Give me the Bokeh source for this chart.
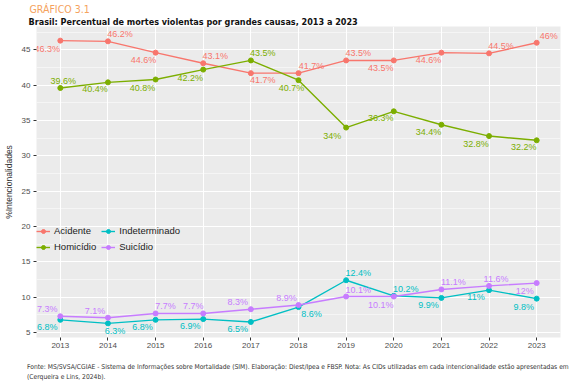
from bokeh.plotting import figure
from bokeh.models import (Range1d, SingleIntervalTicker, FixedTicker, Legend, LegendItem,
                          Title, Div, ColumnDataSource)
from bokeh.layouts import column
from bokeh.core.properties import value
from bokeh.embed import file_html
from bokeh.resources import INLINE

years = [2013, 2014, 2015, 2016, 2017, 2018, 2019, 2020, 2021, 2022, 2023]
acidente = [46.3, 46.2, 44.6, 43.1, 41.7, 41.7, 43.5, 43.5, 44.6, 44.5, 46.0]
homicidio = [39.6, 40.4, 40.8, 42.2, 43.5, 40.7, 34.0, 36.3, 34.4, 32.8, 32.2]
indeterminado = [6.8, 6.3, 6.8, 6.9, 6.5, 8.6, 12.4, 10.2, 9.9, 11.0, 9.8]
suicidio = [7.3, 7.1, 7.7, 7.7, 8.3, 8.9, 10.1, 10.1, 11.1, 11.6, 12.0]
series_names = ["Acidente", "Homicídio", "Indeterminado", "Suicídio"]

titulo_sup = "GRÁFICO 3.1"
titulo = "Brasil: Percentual de mortes violentas por grandes causas, 2013 a 2023"
y_label = "%Intencionalidades"
fonte1 = ("Fonte: MS/SVSA/CGIAE - Sistema de Informações sobre Mortalidade (SIM). Elaboração: "
          "Diest/Ipea e FBSP. Nota: As CIDs utilizadas em cada intencionalidade estão apresentadas em")
fonte2 = "(Cerqueira e Lins, 2024b)."

# styling: colours and label offsets (pixels)
colors = ["#F8766D", "#7CAE00", "#00BFC4", "#C77CFF"]
dxs = [
    [-13, 12, -12, 12, 12, 13, 12, -13, -13, 12, 12],
    [3, -13, -13, -13, 12, -7, -14, -13, -13, -13, -13],
    [-13, 7, -13, -13, -13, 13, 12, 12, -13, -13, -13],
    [-13, -13, 10, -10, -13, -12, 12, -13, 12, 7, -12],
]
dys = [
    [8, -7, 7, -7, 7, -7, -7, 8, 7, -7, -7],
    [-7, 7, 8, 8, -7, 8, 8, 7, 7, 8, 7],
    [7, 8, 7, 7, 7, 7, -7, -7, 7, 7, 8],
    [-7, -7, -7, -7, -7, -7, -7, 8, -7, -7, 8],
]

FONT = "Liberation Sans"
NARROW = "'DejaVu Sans Condensed', 'Liberation Sans', sans-serif"

p = figure(width=576, height=360, output_backend="svg", toolbar_location=None,
           x_range=Range1d(2012.5, 2023.5), y_range=Range1d(4.3, 48.3),
           title=None, min_border_left=34, min_border_right=16, min_border_top=0,
           min_border_bottom=23, background_fill_color="#EBEBEB",
           border_fill_color="white", outline_line_color=None)

p.xaxis.ticker = FixedTicker(ticks=years)
p.yaxis.ticker = SingleIntervalTicker(interval=5, num_minor_ticks=2)
for ax in (p.xaxis[0], p.yaxis[0]):
    ax.axis_line_color = None
    ax.major_tick_line_color = "#333333"
    ax.major_tick_out = 3
    ax.major_tick_in = 0
    ax.minor_tick_line_color = None
    ax.major_label_text_font = FONT
    ax.major_label_text_font_size = "8px"
    ax.major_label_text_color = "#4D4D4D"
    ax.major_label_standoff = 2
p.yaxis.axis_label = y_label
p.yaxis.axis_label_text_font = FONT
p.yaxis.axis_label_text_font_size = "8.5px"
p.yaxis.axis_label_text_font_style = "normal"
p.yaxis.axis_label_text_color = "#333333"
p.yaxis.axis_label_standoff = 5

p.xgrid.grid_line_color = "white"
p.xgrid.grid_line_width = 1.1
p.ygrid.grid_line_color = "white"
p.ygrid.grid_line_width = 1.1
p.ygrid.minor_grid_line_color = "white"
p.ygrid.minor_grid_line_width = 0.5

data = [acidente, homicidio, indeterminado, suicidio]
items = {}
for name, vals, c, dx, dy in zip(series_names, data, colors, dxs, dys):
    src = ColumnDataSource(dict(x=years, y=vals, lab=[f"{v:g}%" for v in vals],
                                dx=dx, dy=dy))
    lr = p.line("x", "y", source=src, line_color=c, line_width=1.4)
    sr = p.scatter("x", "y", source=src, size=5, fill_color=c, line_color=c)
    p.text("x", "y", text="lab", source=src, x_offset="dx", y_offset="dy",
           text_color=c, text_font=value(FONT), text_font_size="9px",
           text_align="center", text_baseline="middle")
    items[name] = LegendItem(label=name, renderers=[lr, sr])

legend = Legend(items=[items["Acidente"], items["Homicídio"], items["Indeterminado"], items["Suicídio"]],
                ncols=2, location=(0, 85), background_fill_alpha=0, border_line_color=None,
                label_text_font=FONT, label_text_font_size="9.5px", label_text_color="#222222",
                glyph_width=14, glyph_height=10, label_standoff=4, spacing=5, padding=4,
                margin=0, label_height=10)
p.add_layout(legend, "center")

p.add_layout(Title(text=titulo, text_font=NARROW, text_font_style="bold",
                   text_font_size="9px", text_color="#111111", offset=-8, standoff=0), "above")
p.add_layout(Title(text=titulo_sup, text_font=NARROW, text_font_style="normal",
                   text_font_size="10.5px", text_color="#F5A25D", offset=-7, standoff=0), "above")

footer = Div(
    text=('<div style="font-family: \'DejaVu Sans Condensed\', \'Liberation Sans\', sans-serif; '
          'font-size: 6.7px; line-height: 10px; color: #333333; white-space: nowrap; '
          'padding-left: 27px; padding-top: 2px; margin: 0;">'
          + fonte1 + "<br>" + fonte2 + "</div>"),
    width=576, height=24, margin=0)

layout = column(p, footer, spacing=0)
open("out.html", "w").write(file_html(layout, INLINE))
